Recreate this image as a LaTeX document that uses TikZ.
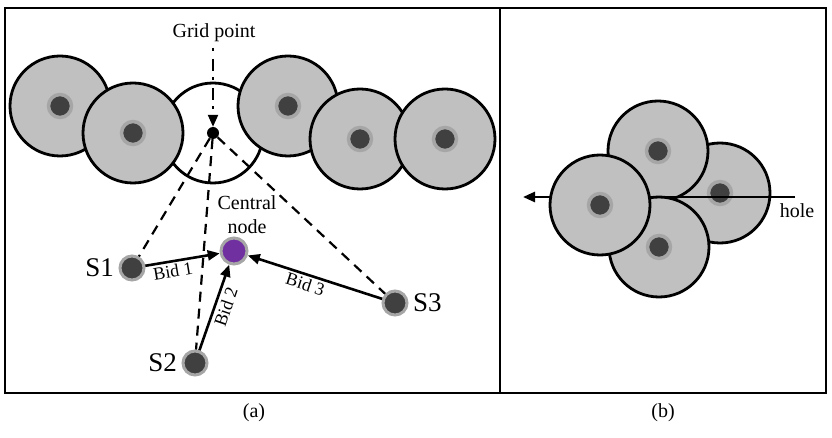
\documentclass[tikz,border=0pt]{standalone}
\usepackage{fontspec}
\setmainfont{Liberation Serif}
\usetikzlibrary{arrows.meta}

\definecolor{discgrey}{HTML}{C0C0C0}
\definecolor{coregrey}{HTML}{404040}
\definecolor{halogrey}{HTML}{A6A6A6}
\definecolor{centralpurple}{HTML}{7030A0}

\tikzset{
  disc/.style={circle, draw, line width=2.8pt, fill=discgrey, minimum size=100pt, inner sep=0pt},
  core/.style={circle, draw=halogrey, line width=3.5pt, fill=coregrey, minimum size=23pt, inner sep=0pt},
  sensor/.style={circle, draw=halogrey, line width=3pt, fill=coregrey, minimum size=24pt, inner sep=0pt},
  bid/.style={line width=2.6pt, -{Triangle[length=12pt,width=10pt]}},
  reach/.style={line width=2.2pt, dash pattern=on 10pt off 7pt},
  lbl/.style={font=\fontsize{20}{24}\selectfont},
  bidlbl/.style={font=\fontsize{18}{21}\selectfont}
}

\begin{document}
\begin{tikzpicture}[x=1pt,y=-1pt]
\useasboundingbox (0,0) rectangle (832,438);

% frame
\draw[line width=2.4pt] (5,8) rectangle (826,393);
\draw[line width=2.4pt] (500,8) -- (500,393);

% (a) grid point and neighbours
\begin{scope}
\node[disc, fill=white] (free) at (213,133) {};
\foreach \x/\y/\n in {60/106/d1, 133/133/d2, 288/106/d3, 360/139/d4, 445/139/d5} {
  \node[disc] (\n) at (\x,\y) {};
  \node[core] at (\n) {};
}
\node[circle, fill, minimum size=12pt, inner sep=0pt] (grid) at (213,133) {};
\coordinate (gtop) at (213,48);
\node[lbl] (gridlbl) at (214,33) {Grid point};
\draw[line width=2.2pt, dash pattern=on 3pt off 8pt on 12pt off 6pt, -{Triangle[length=12pt,width=10pt]}] (gtop) -- (grid);

\node[sensor] (s1) at (132,268) {};
\node[sensor] (s2) at (195,363) {};
\node[sensor] (s3) at (395,303) {};
\node[sensor, fill=centralpurple, minimum size=26pt] (central) at (234,251) {};

\node[font=\fontsize{27}{30}\selectfont, left=1pt] at (s1.west) {S1};
\node[font=\fontsize{27}{30}\selectfont, left=1pt] at (s2.west) {S2};
\node[font=\fontsize{27}{30}\selectfont, right=1pt] at (s3.east) {S3};
\node[lbl, align=center, anchor=south] at ([xshift=13pt,yshift=-1pt]central.north) {Central\\node};

\draw[reach] (grid) -- (s1);
\draw[reach] (grid) -- (s2);
\draw[reach] (grid) -- (s3);

\draw[bid] (s1) -- node[pos=0.35, below, sloped, bidlbl, inner sep=2pt] {Bid 1} (central);
\draw[bid] (s2) -- node[pos=0.55, below, sloped, bidlbl, inner sep=3pt] {Bid 2} (central);
\draw[bid] (s3) -- node[pos=0.55, below, sloped, bidlbl, inner sep=2pt] {Bid 3} (central);
\end{scope}

% (b) hole
\begin{scope}
\node[disc] (br) at (720,193) {};
\node[core] at (br) {};
\node[disc] (bt) at (658,151) {};
\node[core] at (bt) {};
\node[disc] (bb) at (659,247) {};
\node[core] at (bb) {};
\coordinate (holeR) at (795,197);
\coordinate (holeL) at (523,197);
\draw[line width=2.6pt, -{Triangle[length=12pt,width=10pt]}] (holeR) -- (holeL);
\node[disc] (bl) at (600,205) {};
\node[core] at (bl) {};
\node[lbl] (holelbl) at (797,211) {hole};
\end{scope}

% captions
\node[lbl] (capa) at (254,413) {(a)};
\node[lbl] (capb) at (663,413) {(b)};

\end{tikzpicture}
\end{document}
